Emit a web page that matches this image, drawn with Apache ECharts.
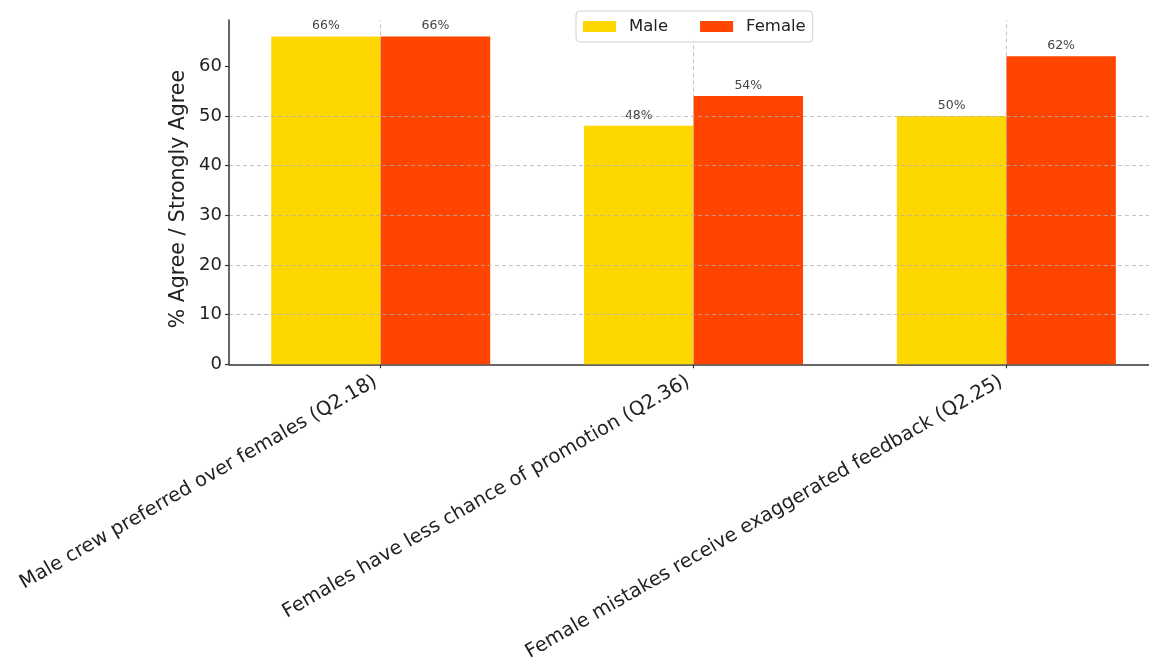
<!DOCTYPE html>
<html>
<head>
<meta charset="utf-8">
<script src="https://cdn.jsdelivr.net/npm/echarts@6/dist/echarts.min.js"></script>
<style>
  html, body { margin: 0; padding: 0; background: #fff; }
  #chart { width: 1149px; height: 664px; }
</style>
</head>
<body>
<div id="chart"></div>
<script>
// Survey statements and share of respondents who agree / strongly agree
const categories = [
  'Male crew preferred over females (Q2.18)',
  'Females have less chance of promotion (Q2.36)',
  'Female mistakes receive exaggerated feedback (Q2.25)'
];
const seriesNames = ['Male', 'Female'];
const maleValues = [66, 48, 50];
const femaleValues = [66, 54, 62];
const yTicks = [0, 10, 20, 30, 40, 50, 60];
const categoryPositions = [0, 1, 2];

const FONT = 'DejaVu Sans';
const GRID_COLOR = 'rgba(176,176,176,0.75)';

const chart = echarts.init(document.getElementById('chart'), null, { renderer: 'canvas' });

function pairs(values) {
  return values.map((v, i) => [categoryPositions[i], v]);
}

const valueLabel = {
  show: true,
  position: 'top',
  distance: 4,
  formatter: p => p.value[1] + '%',
  fontFamily: FONT,
  fontSize: 12.5,
  color: '#444'
};

chart.setOption({
  animation: false,
  backgroundColor: '#fff',
  textStyle: { fontFamily: FONT },
  grid: { left: 229, right: 0, top: 20, bottom: 299, containLabel: false },
  legend: {
    data: seriesNames,
    left: 576,
    top: 11,
    itemWidth: 33,
    itemHeight: 11,
    itemGap: 32,
    padding: [7, 7, 7, 7],
    borderColor: '#d0d0d0',
    borderWidth: 1,
    borderRadius: 4,
    backgroundColor: 'rgba(255,255,255,0.85)',
    icon: 'rect',
    textStyle: { fontFamily: FONT, fontSize: 16.5, color: '#222', padding: [0, 0, 0, 8] },
    z: 10
  },
  xAxis: {
    type: 'value',
    // the visible range stops a little short of the right-hand margin
    min: -0.485,
    max: 2.456,
    axisLine: { show: true, onZero: false, lineStyle: { color: '#333', width: 1.5 } },
    axisTick: { show: true, customValues: categoryPositions, length: 4, lineStyle: { color: '#333', width: 1.2 } },
    axisLabel: {
      show: true,
      customValues: categoryPositions,
      formatter: v => categories[Math.round(v)],
      rotate: 30,
      margin: 13,
      padding: [0, 6, 0, 0],
      fontFamily: FONT,
      fontSize: 19.5,
      color: '#222'
    },
    splitLine: { show: false }
  },
  yAxis: {
    type: 'value',
    min: 0,
    max: 69.3,
    interval: 10,
    z: 5,
    name: '% Agree / Strongly Agree',
    nameLocation: 'middle',
    nameGap: 40,
    nameMoveOverlap: false,
    nameTextStyle: { fontFamily: FONT, fontSize: 20.5, color: '#222', padding: [0, 14, 0, 0] },
    axisLine: { show: true, onZero: false, lineStyle: { color: '#333', width: 1.5 } },
    axisTick: { show: true, customValues: yTicks, length: 4, lineStyle: { color: '#333', width: 1.2 } },
    axisLabel: {
      customValues: yTicks,
      margin: 7,
      fontFamily: FONT,
      fontSize: 18,
      color: '#222'
    },
    splitLine: {
      show: true,
      showMinLine: false,
      showMaxLine: false,
      lineStyle: { color: GRID_COLOR, width: 1, type: [4, 3] }
    }
  },
  series: [
    {
      name: 'Male',
      type: 'bar',
      data: pairs(maleValues),
      barWidth: '35%',
      barGap: '0%',
      itemStyle: { color: '#FFD700' },
      label: valueLabel
    },
    {
      name: 'Female',
      type: 'bar',
      data: pairs(femaleValues),
      barWidth: '35%',
      barGap: '0%',
      itemStyle: { color: '#FF4500' },
      label: valueLabel
    },
    {
      // vertical dashed grid lines at each category position, drawn above the bars
      name: 'xgrid',
      type: 'line',
      data: [],
      z: 5,
      silent: true,
      markLine: {
        silent: true,
        symbol: ['none', 'none'],
        label: { show: false },
        lineStyle: { color: GRID_COLOR, width: 1, type: [4, 3] },
        data: categoryPositions.map(x => ({ xAxis: x }))
      }
    }
  ]
});
</script>
</body>
</html>
